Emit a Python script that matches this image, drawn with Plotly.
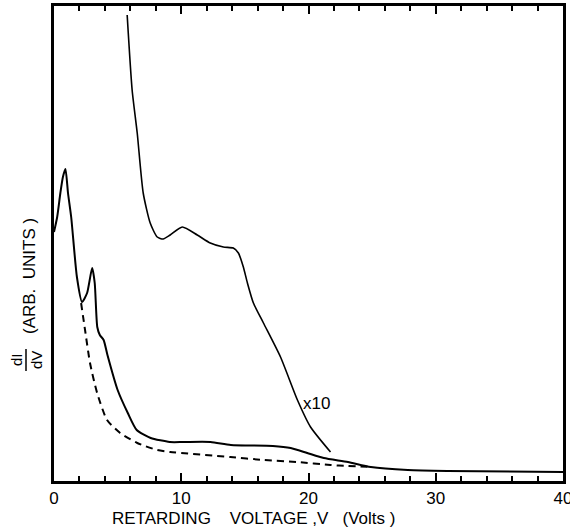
import plotly.graph_objects as go

# Main dI/dV curve (retarding voltage in V, arbitrary units)
main_v = [0, 0.25, 0.5, 0.7, 0.9, 1.1, 1.35, 1.8, 2.2, 2.6, 3.0, 3.2, 3.4, 3.6, 3.9, 4.2,
          5.0, 5.8, 6.5, 7.6, 9.1, 10.2, 12.3, 13.9, 17.2, 18.6, 19.9, 21.2, 23.1, 24.9,
          27.8, 30.9, 40]
main_y = [249, 264, 288, 304, 312, 288, 264, 204, 179, 188, 213, 198, 154, 146, 141, 126,
          91, 68, 51, 43, 39, 39, 39, 36, 35, 33, 28, 23, 19, 14, 11, 10, 9]

# Dashed background curve
bg_v = [2.13, 2.44, 2.83, 3.39, 4.17, 5.2, 6.54, 8.11, 9.13, 13.86, 16.46, 19.13, 21.73, 23.07, 24.88]
bg_y = [178, 151, 118, 88, 61, 48, 38, 31, 29, 24, 21, 19, 16, 15, 14]

# x10 magnified curve
x10_v = [5.75, 6.14, 6.54, 7.01, 7.56, 8.11, 8.58, 9.13, 10.08, 11.26, 12.28, 13.31, 14.09,
         14.49, 14.88, 15.2, 15.67, 16.46, 17.8, 19.13, 20.16, 21.73]
x10_y = [466, 391, 348, 288, 258, 244, 242, 246, 254, 246, 238, 234, 233, 228, 214, 198,
         178, 158, 124, 81, 54, 29]

x_major_step = 10
x_minor_step = 2

FONT = "Liberation Sans"

fig = go.Figure()
fig.add_trace(go.Scatter(x=main_v, y=main_y, mode="lines",
                         line=dict(color="black", width=2, shape="spline", smoothing=0.6),
                         showlegend=False))
fig.add_trace(go.Scatter(x=bg_v, y=bg_y, mode="lines",
                         line=dict(color="black", width=2, dash="7px,5px", shape="spline", smoothing=0.6),
                         showlegend=False))
fig.add_trace(go.Scatter(x=x10_v, y=x10_y, mode="lines",
                         line=dict(color="black", width=1.6, shape="spline", smoothing=0.6),
                         showlegend=False))

fig.add_annotation(x=19.4, y=78, xref="x", yref="y", text="x10", showarrow=False,
                   xanchor="left", yanchor="middle", font=dict(family=FONT, size=17, color="black"))

# x-axis title
fig.add_annotation(x=(253 - 54) / 509, y=-(518 - 481) / 475, xref="paper", yref="paper",
                   text="RETARDING&nbsp;&nbsp;&nbsp; VOLTAGE&nbsp;,V&nbsp;&nbsp; (Volts )",
                   showarrow=False, xanchor="center", yanchor="middle",
                   font=dict(family=FONT, size=17, color="black"))

# y-axis title: fraction dI/dV and (ARB. UNITS )
fig.add_annotation(x=(26 - 54) / 509, y=(481 - 360) / 475, xref="paper", yref="paper",
                   text="dI<br>dV", textangle=-90, showarrow=False,
                   xanchor="center", yanchor="middle",
                   font=dict(family=FONT, size=15, color="black"))
fig.add_shape(type="line", xref="paper", yref="paper",
              x0=(26 - 54) / 509, x1=(26 - 54) / 509,
              y0=(481 - 349) / 475, y1=(481 - 371) / 475,
              line=dict(color="black", width=1.5))
fig.add_annotation(x=(29 - 54) / 509, y=(481 - 276) / 475, xref="paper", yref="paper",
                   text="(ARB.&nbsp; UNITS&nbsp;)", textangle=-90, showarrow=False,
                   xanchor="center", yanchor="middle",
                   font=dict(family=FONT, size=17, color="black"))

fig.update_layout(
    template="none",
    width=570, height=531,
    margin=dict(l=54, r=7, t=6, b=50),
    xaxis=dict(range=[0, 40], dtick=x_major_step,
               ticks="inside", ticklen=8, tickwidth=2, tickcolor="#000",
               minor=dict(dtick=x_minor_step, ticks="inside", ticklen=5, tickwidth=1.5,
                          tickcolor="#000"),
               showline=True, linecolor="black", linewidth=2.5, mirror="ticks",
               gridcolor="rgba(0,0,0,0)",
               tickfont=dict(family=FONT, size=17, color="black"),
               ticklabeloverflow="allow"),
    yaxis=dict(range=[0, 475], ticks="outside", ticklen=0, tickcolor="rgba(0,0,0,0)",
               showticklabels=False, gridcolor="rgba(0,0,0,0)",
               showline=True, linecolor="black", linewidth=2.5, mirror=True),
)

fig.write_html("out.html")
